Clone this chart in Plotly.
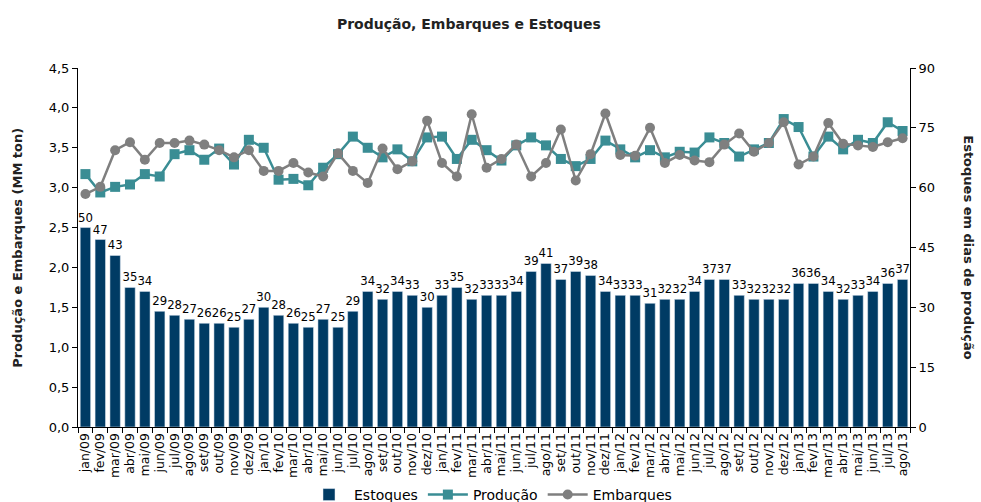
import plotly.graph_objects as go

months = ["jan/09","fev/09","mar/09","abr/09","mai/09","jun/09","jul/09","ago/09","set/09","out/09","nov/09","dez/09",
          "jan/10","fev/10","mar/10","abr/10","mai/10","jun/10","jul/10","ago/10","set/10","out/10","nov/10","dez/10",
          "jan/11","fev/11","mar/11","abr/11","mai/11","jun/11","jul/11","ago/11","set/11","out/11","nov/11","dez/11",
          "jan/12","fev/12","mar/12","abr/12","mai/12","jun/12","jul/12","ago/12","set/12","out/12","nov/12","dez/12",
          "jan/13","fev/13","mar/13","abr/13","mai/13","jun/13","jul/13","ago/13"]

estoques = [50,47,43,35,34,29,28,27,26,26,25,27,
            30,28,26,25,27,25,29,34,32,34,33,30,
            33,35,32,33,33,34,39,41,37,39,38,34,
            33,33,31,32,32,34,37,37,33,32,32,32,
            36,36,34,32,33,34,36,37]

producao = [3.17,2.94,3.01,3.04,3.17,3.14,3.42,3.47,3.35,3.49,3.29,3.60,
            3.50,3.10,3.11,3.03,3.25,3.42,3.64,3.50,3.38,3.48,3.33,3.63,
            3.64,3.36,3.60,3.47,3.34,3.53,3.63,3.53,3.36,3.27,3.36,3.59,
            3.48,3.38,3.47,3.38,3.45,3.44,3.63,3.56,3.39,3.48,3.56,3.86,
            3.76,3.39,3.64,3.48,3.60,3.56,3.82,3.71]

embarques = [2.92,3.01,3.47,3.57,3.35,3.56,3.56,3.59,3.54,3.47,3.38,3.47,
             3.21,3.21,3.31,3.19,3.14,3.43,3.21,3.06,3.49,3.23,3.33,3.84,
             3.31,3.14,3.92,3.25,3.36,3.54,3.14,3.31,3.73,3.09,3.42,3.93,
             3.41,3.40,3.75,3.31,3.41,3.34,3.32,3.54,3.68,3.45,3.56,3.82,
             3.29,3.39,3.81,3.55,3.53,3.51,3.57,3.62]

left_ticks = [0, 0.5, 1.0, 1.5, 2.0, 2.5, 3.0, 3.5, 4.0, 4.5]
right_ticks = [0, 15, 30, 45, 60, 75, 90]

FONT = "DejaVu Sans"
LABEL_FONT = "DejaVu Sans Condensed, DejaVu Sans"

fig = go.Figure()
fig.add_trace(go.Bar(
    x=months, y=estoques, name="Estoques", yaxis="y",
    marker=dict(color="#003B64"),
    text=[str(v) for v in estoques], textposition="outside",
    textfont=dict(family=LABEL_FONT, size=13, color="black"),
    constraintext="none", cliponaxis=False,
))
fig.add_trace(go.Scatter(
    x=months, y=producao, name="Produção", yaxis="y2", mode="lines+markers",
    line=dict(color="#3A8D94", width=2.5),
    marker=dict(symbol="square", size=10, color="#3A8D94"),
))
fig.add_trace(go.Scatter(
    x=months, y=embarques, name="Embarques", yaxis="y2", mode="lines+markers",
    line=dict(color="#7F7F7F", width=2.5),
    marker=dict(symbol="circle", size=10, color="#7F7F7F"),
))

fig.update_layout(
    width=981, height=502,
    margin=dict(l=78, r=71, t=68, b=75),
    paper_bgcolor="white", plot_bgcolor="white",
    separators=",.",
    bargap=0.3,
    font=dict(family=FONT, size=13, color="black"),
    title=dict(text="<b>Produção, Embarques e Estoques</b>", x=0.478, xanchor="center",
               y=0.952, yanchor="middle", font=dict(family=FONT, size=14, color="#222222")),
    xaxis=dict(type="category", tickangle=-90, tickfont=dict(family=FONT, size=12.5),
               tickmode="linear", dtick=1, automargin=False,
               showline=True, linecolor="black", linewidth=1,
               ticks="outside", ticklen=5, tickson="boundaries", tickcolor="black",
               showgrid=False, range=[-0.5, len(months) - 0.5]),
    yaxis=dict(side="right", range=[0, 90], tickvals=right_ticks, automargin=False,
               showline=True, linecolor="black", linewidth=1, ticks="outside", ticklen=5,
               tickcolor="black", showgrid=False, zeroline=False,
               tickfont=dict(family=FONT, size=13)),
    yaxis2=dict(side="left", overlaying="y", range=[0, 4.5], tickvals=left_ticks, tickformat=".1f",
                automargin=False,
                showline=True, linecolor="black", linewidth=1, ticks="outside", ticklen=5,
                tickcolor="black", showgrid=False, zeroline=False,
                tickfont=dict(family=FONT, size=13)),
    legend=dict(orientation="h", x=0.5, xanchor="center", xref="container",
                y=0.014, yanchor="middle", yref="container", bgcolor="rgba(0,0,0,0)",
                font=dict(family=FONT, size=14), traceorder="normal", itemwidth=40),
    showlegend=True,
    annotations=[
        dict(text="<b>Produção e Embarques (MM ton)</b>", xref="paper", yref="paper",
             x=-0.073, y=0.5, xanchor="center", yanchor="middle", textangle=-90,
             showarrow=False, font=dict(family=FONT, size=13, color="#222222")),
        dict(text="<b>Estoques em dias de produção</b>", xref="paper", yref="paper",
             x=1.07, y=0.5, xanchor="center", yanchor="middle", textangle=90,
             showarrow=False, font=dict(family=FONT, size=13, color="#222222")),
    ],
)

fig.write_html("out.html", config={"displayModeBar": False},
               post_script="document.body.style.margin='0';document.body.style.overflow='hidden';")
